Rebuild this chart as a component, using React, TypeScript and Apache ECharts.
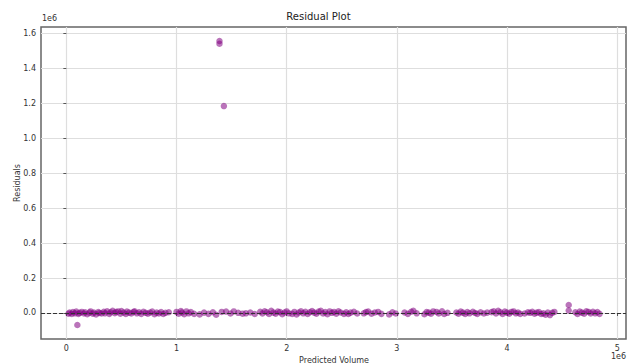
import React, { useEffect, useRef } from "react";
import * as echarts from "echarts";

// Predicted volume (in millions) and residuals (in millions)
const predictedM: number[] = [
  0.02, 0.03, 0.05, 0.06, 0.08, 0.09, 0.11, 0.12, 0.14, 0.16,
  0.17, 0.19, 0.21, 0.22, 0.24, 0.25, 0.27, 0.29, 0.30, 0.32,
  0.34, 0.35, 0.37, 0.39, 0.40, 0.42, 0.44, 0.45, 0.47, 0.49,
  0.50, 0.52, 0.54, 0.55, 0.57, 0.59, 0.61, 0.62, 0.64, 0.66,
  0.68, 0.70, 0.72, 0.74, 0.76, 0.78, 0.80, 0.82, 0.84, 0.86,
  0.88, 0.90, 0.93,
  1.00, 1.02, 1.04, 1.05, 1.07, 1.09, 1.11, 1.13, 1.16,
  1.21, 1.25, 1.29, 1.33, 1.36, 1.41, 1.45, 1.49, 1.52, 1.56, 1.60, 1.63, 1.67, 1.71,
  1.76, 1.78, 1.80, 1.82, 1.84, 1.86, 1.88, 1.90, 1.92, 1.94, 1.96, 1.98, 2.00, 2.02,
  2.05, 2.07, 2.09, 2.11, 2.13, 2.15, 2.17, 2.19, 2.21, 2.23,
  2.25, 2.27, 2.29, 2.31, 2.33, 2.35, 2.37, 2.39, 2.41, 2.43,
  2.45, 2.47, 2.49, 2.52,
  2.54, 2.56, 2.58, 2.61, 2.64,
  2.70, 2.72, 2.74, 2.77, 2.80, 2.83, 2.86,
  2.93, 2.96, 2.99,
  3.07, 3.10, 3.13, 3.15, 3.18,
  3.25, 3.27, 3.29, 3.31, 3.33, 3.36, 3.38, 3.41, 3.43, 3.46,
  3.54, 3.56, 3.58, 3.60, 3.62, 3.64, 3.66, 3.69, 3.71, 3.73, 3.76, 3.79, 3.82,
  3.86, 3.88, 3.90, 3.92, 3.94, 3.96, 3.98, 4.00, 4.02, 4.04,
  4.06, 4.08, 4.10, 4.12, 4.16, 4.19, 4.21, 4.23, 4.25, 4.27,
  4.29, 4.31, 4.33, 4.35, 4.37, 4.39, 4.41, 4.43,
  4.62, 4.64, 4.66, 4.68, 4.70, 4.72, 4.74, 4.76, 4.78, 4.80, 4.82, 4.84,
];

const residualsM: number[] = [
  -0.004, 0.002, -0.006, 0.005, -0.002, 0.008, -0.005, 0.001, 0.006, -0.003,
  0.004, -0.007, 0.002, 0.009, -0.004, 0.003, -0.008, 0.005, 0.0, -0.003,
  0.007, -0.002, 0.010, -0.005, 0.004, 0.012, -0.001, 0.006, 0.009, -0.004,
  0.011, 0.003, -0.006, 0.008, 0.002, -0.003, 0.006, 0.010, -0.002, 0.004,
  -0.005, 0.007, 0.001, -0.004, 0.003, 0.008, -0.007, 0.002, -0.003, 0.005,
  -0.006, 0.001, 0.004,
  0.006, -0.004, 0.011, 0.003, -0.007, 0.009, -0.002, 0.005, -0.005,
  -0.008, 0.002, -0.005, 0.004, -0.010, 0.006, 0.008, -0.003, 0.009, 0.001, -0.004, -0.002, 0.003, -0.006,
  0.007, -0.003, 0.010, 0.004, -0.006, 0.012, 0.002, -0.004, 0.008, 0.005, -0.007, 0.003, 0.009, -0.002,
  -0.005, 0.006, -0.009, 0.003, 0.010, -0.002, 0.007, -0.006, 0.004, 0.011,
  0.002, -0.004, 0.008, 0.013, -0.003, 0.005, -0.007, 0.009, 0.001, 0.006,
  -0.004, 0.010, 0.003, -0.005,
  0.004, -0.006, 0.002, 0.007, -0.003,
  -0.002, 0.005, 0.008, -0.004, 0.003, 0.006, -0.005,
  -0.008, 0.004, -0.003,
  0.003, -0.005, 0.007, 0.012, -0.002,
  -0.007, 0.005, 0.002, -0.004, 0.009, 0.006, -0.003, 0.010, -0.006, 0.001,
  0.003, -0.004, 0.008, 0.002, -0.006, 0.005, -0.002, 0.007, 0.0, -0.005, 0.004, -0.003, 0.002,
  0.005, 0.010, -0.003, 0.012, 0.004, -0.006, 0.008, 0.002, -0.004, 0.006,
  0.009, -0.002, 0.003, -0.005, -0.003, 0.004, 0.001, 0.007, -0.004, 0.002,
  0.005, -0.006, -0.002, -0.010, 0.003, -0.012, 0.001, 0.006,
  0.004, -0.006, 0.008, 0.002, -0.004, 0.010, 0.006, -0.003, 0.007, -0.002, 0.005, -0.005,
];

const outlierPredictedM: number[] = [0.1, 1.39, 1.39, 1.43, 4.56, 4.56];
const outlierResidualsM: number[] = [-0.069, 1.558, 1.542, 1.185, 0.046, 0.014];

const xTicks: number[] = [0, 1, 2, 3, 4, 5];
const yTicks: number[] = [0, 0.2, 0.4, 0.6, 0.8, 1.0, 1.2, 1.4, 1.6];

const SCALE = 1e6;

export default function App() {
  const ref = useRef<HTMLDivElement>(null);

  useEffect(() => {
    document.body.style.margin = "0";
    if (!ref.current) return;
    const chart = echarts.init(ref.current, undefined, { renderer: "svg" });

    const pts: number[][] = [];
    predictedM.forEach((x, i) => pts.push([x * SCALE, residualsM[i] * SCALE]));
    outlierPredictedM.forEach((x, i) => pts.push([x * SCALE, outlierResidualsM[i] * SCALE]));

    const font = "DejaVu Sans";
    const labelColor = "#333";

    chart.setOption({
      animation: false,
      backgroundColor: "#fff",
      textStyle: { fontFamily: font },
      grid: {
        left: 41,
        right: 11,
        top: 27,
        bottom: 24,
        show: true,
        borderColor: "#666",
        borderWidth: 1.5,
        backgroundColor: "transparent",
      },
      xAxis: {
        type: "value",
        min: -0.23 * SCALE,
        max: 5.08 * SCALE,
        axisLine: { show: false },
        axisTick: {
          show: true,
          length: 3,
          lineStyle: { color: "#555" },
          customValues: xTicks.map((v) => v * SCALE),
        },
        axisLabel: {
          color: labelColor,
          fontSize: 8,
          margin: 5,
          fontFamily: font,
          customValues: xTicks.map((v) => v * SCALE),
          formatter: (v: number) => String(Math.round(v / SCALE)),
        },
        splitLine: { show: true, lineStyle: { color: "#dedede", width: 1.2 } },
      },
      yAxis: {
        type: "value",
        min: -0.149 * SCALE,
        max: 1.638 * SCALE,
        axisLine: { show: false },
        axisTick: {
          show: true,
          length: 3,
          lineStyle: { color: "#555" },
          customValues: yTicks.map((v) => v * SCALE),
        },
        axisLabel: {
          color: labelColor,
          fontSize: 8,
          margin: 5,
          fontFamily: font,
          customValues: yTicks.map((v) => v * SCALE),
          formatter: (v: number) => (v / SCALE).toFixed(1),
        },
        splitLine: { show: true, lineStyle: { color: "#dedede", width: 1.2 } },
      },
      graphic: [
        {
          type: "text",
          left: "center",
          top: 11,
          style: { text: "Residual Plot", fontSize: 10, fill: "#222", fontFamily: font },
        },
        {
          type: "text",
          x: 42,
          y: 14,
          style: { text: "1e6", fontSize: 8, fill: labelColor, fontFamily: font },
        },
        {
          type: "text",
          x: 611,
          y: 352,
          style: { text: "1e6", fontSize: 8, fill: labelColor, fontFamily: font },
        },
        {
          type: "text",
          x: 334,
          y: 360,
          style: {
            text: "Predicted Volume",
            fontSize: 8,
            fill: labelColor,
            fontFamily: font,
            align: "center",
            verticalAlign: "middle",
          },
        },
        {
          type: "text",
          x: 17,
          y: 183,
          rotation: Math.PI / 2,
          style: {
            text: "Residuals",
            fontSize: 8,
            fill: labelColor,
            fontFamily: font,
            align: "center",
            verticalAlign: "middle",
          },
        },
      ],
      series: [
        {
          type: "scatter",
          data: pts,
          symbolSize: 6.5,
          itemStyle: { color: "rgba(128,0,128,0.68)" },
          markLine: {
            silent: true,
            symbol: ["none", "none"],
            label: { show: false },
            lineStyle: { color: "#333", type: "dashed", width: 1 },
            data: [{ yAxis: 0 }],
          },
          z: 3,
        },
      ],
    });

    return () => chart.dispose();
  }, []);

  return <div ref={ref} style={{ width: 637, height: 363 }} />;
}
